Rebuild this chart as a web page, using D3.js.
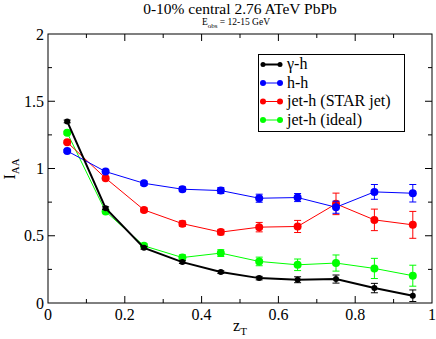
<!DOCTYPE html>
<html>
<head>
<meta charset="utf-8">
<script src="https://cdn.jsdelivr.net/npm/d3@7"></script>
<style>
  body { margin: 0; background: #fff; }
</style>
</head>
<body>
<div id="chart"></div>
<script>
// z_T bin centres
const zT = [0.05, 0.15, 0.25, 0.35, 0.45, 0.55, 0.65, 0.75, 0.85, 0.95];

// I_AA per series, with symmetric errors
const gammaH    = [1.35, 0.705, 0.41, 0.304, 0.23, 0.185, 0.173, 0.178, 0.111, 0.054];
const gammaHErr = [0.01, 0.01, 0.01, 0.01, 0.01, 0.013, 0.022, 0.03, 0.035, 0.043];
const hH        = [1.13, 0.977, 0.89, 0.846, 0.836, 0.779, 0.784, 0.712, 0.826, 0.816];
const hHErr     = [0.01, 0.01, 0.015, 0.018, 0.022, 0.03, 0.03, 0.045, 0.055, 0.065];
const jetStar    = [1.195, 0.928, 0.692, 0.59, 0.527, 0.564, 0.569, 0.737, 0.618, 0.581];
const jetStarErr = [0.01, 0.01, 0.015, 0.02, 0.02, 0.035, 0.045, 0.08, 0.08, 0.1];
const jetIdeal    = [1.266, 0.68, 0.425, 0.338, 0.371, 0.309, 0.284, 0.297, 0.257, 0.203];
const jetIdealErr = [0.01, 0.01, 0.015, 0.02, 0.025, 0.032, 0.043, 0.06, 0.075, 0.078];

const seriesNames = ["\u03b3-h", "h-h", "jet-h (STAR jet)", "jet-h (ideal)"];
const xTicks = [0, 0.2, 0.4, 0.6, 0.8, 1];
const yTicks = [0, 0.5, 1, 1.5, 2];

const W = 436, H = 339;
const pL = 48, pR = 432, pT = 34, pB = 303;
const FONT = "'Liberation Serif', 'Times New Roman', Times, serif";

const svg = d3.select("#chart").append("svg")
    .attr("width", W)
    .attr("height", H)
    .attr("font-family", FONT);

const x = d3.scaleLinear().domain([0, 1]).range([pL, pR]);
const y = d3.scaleLinear().domain([0, 2]).range([pB, pT]);

// frame
svg.append("rect")
    .attr("x", pL).attr("y", pT)
    .attr("width", pR - pL).attr("height", pB - pT)
    .attr("fill", "none").attr("stroke", "#000").attr("stroke-width", 1);

// inward ticks on all four sides
const xMinor = d3.range(0.1, 1, 0.2);
const yMinor = d3.range(0.25, 2, 0.5);
const tick = (g, vals, len, pos) => {
  vals.forEach(v => {
    if (pos === "b") g.append("line").attr("x1", x(v)).attr("x2", x(v)).attr("y1", pB).attr("y2", pB - len);
    if (pos === "t") g.append("line").attr("x1", x(v)).attr("x2", x(v)).attr("y1", pT).attr("y2", pT + len);
    if (pos === "l") g.append("line").attr("y1", y(v)).attr("y2", y(v)).attr("x1", pL).attr("x2", pL + len);
    if (pos === "r") g.append("line").attr("y1", y(v)).attr("y2", y(v)).attr("x1", pR).attr("x2", pR - len);
  });
};
const tg = svg.append("g").attr("stroke", "#000").attr("stroke-width", 1);
["b", "t"].forEach(p => { tick(tg, xTicks.slice(1, -1), 7, p); tick(tg, xMinor, 4, p); });
["l", "r"].forEach(p => { tick(tg, yTicks.slice(1, -1), 7, p); tick(tg, yMinor, 4, p); });

// tick labels
svg.append("g").selectAll("text").data(xTicks).join("text")
    .attr("x", d => x(d)).attr("y", 320)
    .attr("text-anchor", "middle").attr("font-size", 16)
    .text(d => d3.format("")(d));
svg.append("g").selectAll("text").data(yTicks).join("text")
    .attr("x", 44).attr("y", d => y(d) + 5.5)
    .attr("text-anchor", "end").attr("font-size", 16)
    .text(d => d3.format("")(d));

// axis titles
const xl = svg.append("text").attr("x", 240).attr("y", 331)
    .attr("text-anchor", "middle").attr("font-size", 16);
xl.append("tspan").text("z");
xl.append("tspan").attr("font-size", 11).attr("dy", 4).text("T");

const yl = svg.append("text")
    .attr("transform", "translate(15,169) rotate(-90)")
    .attr("text-anchor", "middle").attr("font-size", 16);
yl.append("tspan").text("I");
yl.append("tspan").attr("font-size", 11).attr("dy", 4).text("AA");

// titles
svg.append("text").attr("x", 240).attr("y", 13.5)
    .attr("text-anchor", "middle").attr("font-size", 15.5)
    .text("0-10% central 2.76 ATeV PbPb");
const sub = svg.append("text").attr("x", 236).attr("y", 25.3)
    .attr("text-anchor", "middle").attr("font-size", 9.5);
sub.append("tspan").text("E");
sub.append("tspan").attr("font-size", 7).attr("dy", 2.5).text("obs");
sub.append("tspan").attr("dy", -2.5).text(" = 12-15 GeV");

// series
const series = [
  { vals: jetIdeal, err: jetIdealErr, color: "#00ff00", w: 1, r: 4 },
  { vals: jetStar,  err: jetStarErr,  color: "#ff0000", w: 1, r: 4 },
  { vals: hH,       err: hHErr,       color: "#0000ff", w: 1, r: 4 },
  { vals: gammaH,   err: gammaHErr,   color: "#000000", w: 2, r: 3 }
];

const line = d3.line().x(d => x(d[0])).y(d => y(d[1]));

series.forEach(s => {
  const pts = zT.map((z, i) => [z, s.vals[i], s.err[i]]);
  const g = svg.append("g");
  g.append("path").datum(pts).attr("d", line)
      .attr("fill", "none").attr("stroke", s.color).attr("stroke-width", s.w);
  const eb = g.append("g").attr("stroke", s.color).attr("stroke-width", 1);
  pts.forEach(p => {
    const cx = x(p[0]), y1 = y(p[1] - p[2]), y2 = y(p[1] + p[2]);
    eb.append("line").attr("x1", cx).attr("x2", cx).attr("y1", y1).attr("y2", y2);
    eb.append("line").attr("x1", cx - 3.5).attr("x2", cx + 3.5).attr("y1", y1).attr("y2", y1);
    eb.append("line").attr("x1", cx - 3.5).attr("x2", cx + 3.5).attr("y1", y2).attr("y2", y2);
  });
  g.selectAll("circle").data(pts).join("circle")
      .attr("cx", d => x(d[0])).attr("cy", d => y(d[1])).attr("r", s.r)
      .attr("fill", s.color);
});

// legend
const lg = svg.append("g");
lg.append("rect").attr("x", 258.5).attr("y", 54.5).attr("width", 146).attr("height", 77)
    .attr("fill", "#fff").attr("stroke", "#000").attr("stroke-width", 1);
const legColors = ["#000000", "#0000ff", "#ff0000", "#00ff00"];
seriesNames.forEach((name, i) => {
  const ly = 64.5 + i * 18.5;
  lg.append("line").attr("x1", 263).attr("x2", 280).attr("y1", ly).attr("y2", ly)
      .attr("stroke", legColors[i]).attr("stroke-width", i === 0 ? 2 : 1);
  [263, 280].forEach(cx => lg.append("circle").attr("cx", cx).attr("cy", ly)
      .attr("r", i === 0 ? 2.5 : 3).attr("fill", legColors[i]));
  lg.append("text").attr("x", 287).attr("y", ly + 4.5)
      .attr("font-size", 16).text(name);
});
</script>
</body>
</html>
